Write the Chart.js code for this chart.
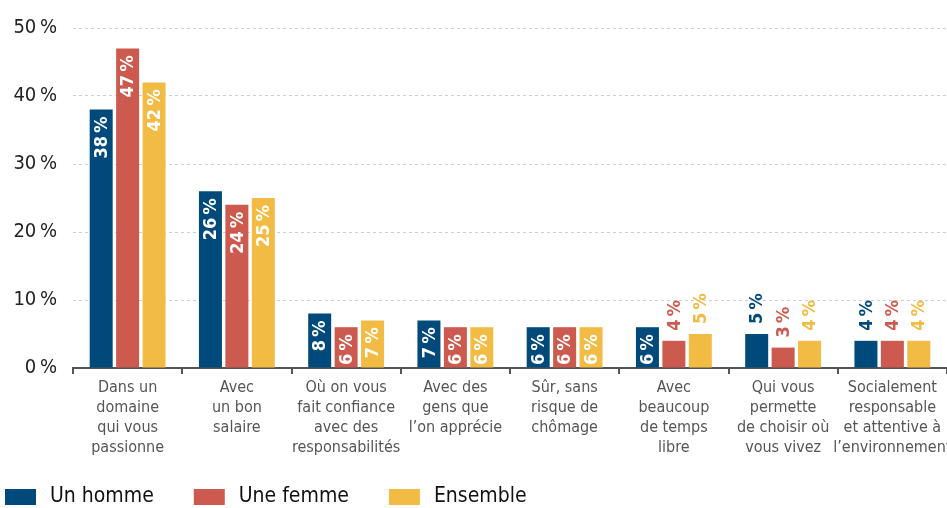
<!DOCTYPE html>
<html>
<head>
<meta charset="utf-8">
<script src="https://cdn.jsdelivr.net/npm/chart.js@4.4.0/dist/chart.umd.min.js"></script>
<style>
  html, body { margin: 0; padding: 0; background: #fff; }
  #wrap { width: 947px; height: 508px; position: relative; }
</style>
</head>
<body>
<div id="wrap"><canvas id="chart"></canvas></div>
<script>
const categories = [
    ['Dans un', 'domaine', 'qui vous', 'passionne'],
    ['Avec', 'un bon', 'salaire'],
    ['Où on vous', 'fait confiance', 'avec des', 'responsabilités'],
    ['Avec des', 'gens que', 'l’on apprécie'],
    ['Sûr, sans', 'risque de', 'chômage'],
    ['Avec', 'beaucoup', 'de temps', 'libre'],
    ['Qui vous', 'permette', 'de choisir où', 'vous vivez'],
    ['Socialement', 'responsable', 'et attentive à', 'l’environnement']
];
const seriesNames = ['Un homme', 'Une femme', 'Ensemble'];
const homme = [38, 26, 8, 7, 6, 6, 5, 4];
const femme = [47, 24, 6, 6, 6, 4, 3, 4];
const ensemble = [42, 25, 7, 6, 6, 5, 4, 4];
const yTicks = [0, 10, 20, 30, 40, 50];

const colors = ['#004a7b', '#cd5a4e', '#f2bb44'];
const FONT = "'Liberation Sans Narrow', 'DejaVu Sans Condensed', sans-serif";

// value labels written vertically, inside the bar when it is tall enough
const barLabels = {
    id: 'barLabels',
    afterDatasetsDraw(chart) {
        const ctx = chart.ctx;
        ctx.save();
        ctx.font = 'bold 18px ' + FONT;
        ctx.textBaseline = 'middle';
        chart.data.datasets.forEach((ds, i) => {
            const meta = chart.getDatasetMeta(i);
            meta.data.forEach((bar, j) => {
                const v = ds.data[j];
                const txt = v + '\u202f%';
                const inside = v >= 6;
                ctx.save();
                ctx.translate(bar.x + 1, bar.y);
                ctx.rotate(-Math.PI / 2);
                if (inside) {
                    ctx.fillStyle = '#fff';
                    ctx.textAlign = 'right';
                    ctx.fillText(txt, -7, 0);
                } else {
                    ctx.fillStyle = ds.backgroundColor;
                    ctx.textAlign = 'left';
                    ctx.fillText(txt, 10, 0);
                }
                ctx.restore();
            });
        });
        ctx.restore();
    }
};

// legend drawn along the bottom left
const bottomLegend = {
    id: 'bottomLegend',
    afterDraw(chart) {
        const ctx = chart.ctx;
        ctx.save();
        ctx.font = '21px ' + FONT;
        ctx.textBaseline = 'middle';
        ctx.textAlign = 'left';
        let x = 5;
        const y = 497;
        chart.data.datasets.forEach(ds => {
            ctx.fillStyle = ds.backgroundColor;
            ctx.fillRect(x, y - 8, 31, 16);
            ctx.fillStyle = '#111';
            ctx.fillText(ds.label, x + 45, y);
            x += 45 + ctx.measureText(ds.label).width + 40;
        });
        ctx.restore();
    }
};

const ctx = document.getElementById('chart').getContext('2d');
new Chart(ctx, {
    type: 'bar',
    data: {
        labels: categories,
        datasets: [homme, femme, ensemble].map((d, i) => ({
            label: seriesNames[i],
            data: d,
            backgroundColor: colors[i],
            borderWidth: 0,
            categoryPercentage: 0.726,
            barPercentage: 0.87
        }))
    },
    options: {
        responsive: true,
        maintainAspectRatio: false,
        animation: false,
        layout: { padding: { top: 6, left: 0, right: 0, bottom: 46 } },
        plugins: {
            tooltip: { enabled: false },
            legend: { display: false }
        },
        scales: {
            x: {
                offset: true,
                afterFit(scale) {
                    scale.paddingLeft = 0;
                    scale.paddingRight = 0;
                },
                grid: {
                    offset: true,
                    drawOnChartArea: false,
                    drawTicks: true,
                    tickLength: 6,
                    color: '#555',
                    lineWidth: 2
                },
                border: { display: true, color: '#555', width: 2 },
                ticks: {
                    color: '#555',
                    padding: 4,
                    maxRotation: 0,
                    autoSkip: false,
                    font: { family: FONT, size: 16, lineHeight: 1.25 }
                }
            },
            y: {
                min: 0,
                max: 50,
                afterBuildTicks(scale) {
                    scale.ticks = yTicks.map(v => ({ value: v }));
                },
                afterFit(scale) {
                    scale.width = 73;
                },
                grid: {
                    drawTicks: false,
                    color: c => c.tick.value === 0 ? 'rgba(0,0,0,0)' : '#cfcfcf',
                    lineWidth: 1
                },
                border: { display: false, dash: [3, 3] },
                ticks: {
                    color: '#222',
                    padding: 16,
                    font: { family: FONT, size: 20 },
                    callback: v => v + '\u202f%'
                }
            }
        }
    },
    plugins: [barLabels, bottomLegend]
});
</script>
</body>
</html>
